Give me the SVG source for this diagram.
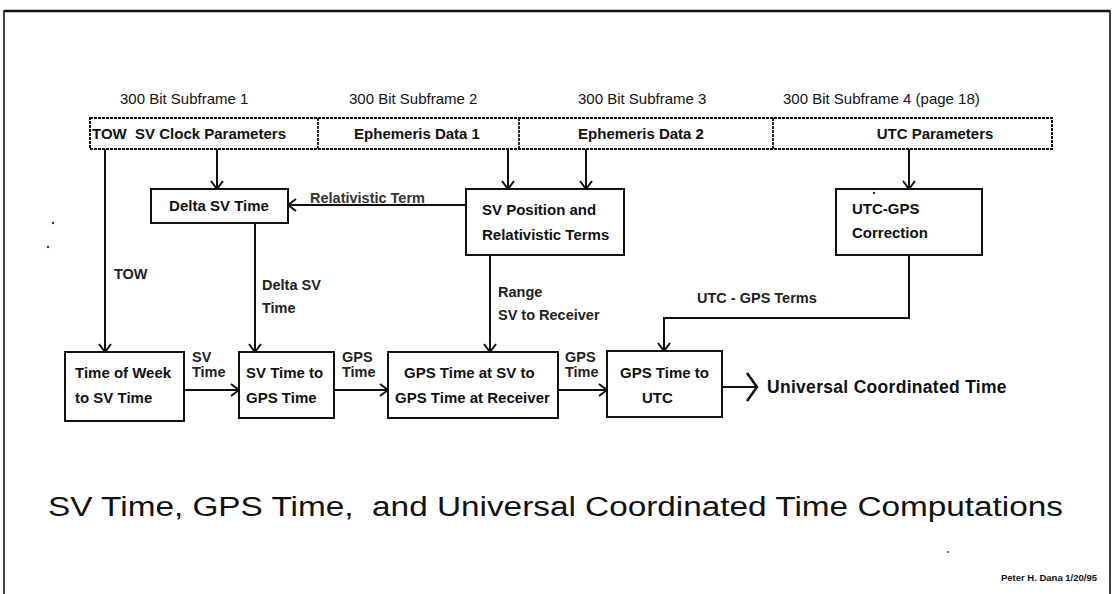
<svg xmlns="http://www.w3.org/2000/svg" width="1117" height="594" viewBox="0 0 1117 594">
<defs>
<marker id="arr" viewBox="0 0 10 14" refX="9" refY="7" markerWidth="10" markerHeight="14" markerUnits="userSpaceOnUse" orient="auto">
<path d="M1,1 L9,7 L1,13" fill="none" stroke="#111" stroke-width="2"/>
</marker>
<marker id="bigarr" viewBox="0 0 14 30" refX="12" refY="15" markerWidth="14" markerHeight="30" markerUnits="userSpaceOnUse" orient="auto">
<path d="M2,1 L12,15 L2,29" fill="none" stroke="#111" stroke-width="2.5"/>
</marker>
</defs>
<style>
.box{fill:#fff;stroke:#111;stroke-width:2}
.bar{fill:#fff;stroke:#111;stroke-width:2;stroke-dasharray:3 1}
.div{stroke:#111;stroke-width:1.8;stroke-dasharray:3 1}
.line{fill:none;stroke:#111;stroke-width:2}
.t{font-family:"Liberation Sans",Arial,sans-serif;font-size:15px;font-weight:bold;fill:#111}
.s{font-family:"Liberation Sans",Arial,sans-serif;font-size:15px;fill:#111}
.lbl{font-family:"Liberation Sans",Arial,sans-serif;font-size:14.5px;font-weight:bold;fill:#222}
</style>
<rect x="0" y="0" width="1117" height="594" fill="#fff"/>
<rect x="4" y="11" width="1106" height="600" fill="none" stroke="#111" stroke-width="1.6"/>
<line x1="4" y1="11" x2="1110" y2="11" stroke="#111" stroke-width="2.5"/>

<g id="subframes">
<text class="s" x="120" y="104">300 Bit Subframe 1</text>
<text class="s" x="349" y="104">300 Bit Subframe 2</text>
<text class="s" x="578" y="104">300 Bit Subframe 3</text>
<text class="s" x="783" y="104">300 Bit Subframe 4 (page 18)</text>
</g>

<g id="bar">
<rect class="bar" x="90" y="118" width="962" height="31"/>
<line class="div" x1="318" y1="118" x2="318" y2="149"/>
<line class="div" x1="519" y1="118" x2="519" y2="149"/>
<line class="div" x1="773" y1="118" x2="773" y2="149"/>
<text class="t" x="92" y="139" xml:space="preserve">TOW  SV Clock Parameters</text>
<text class="t" x="417" y="139" text-anchor="middle">Ephemeris Data 1</text>
<text class="t" x="641" y="139" text-anchor="middle">Ephemeris Data 2</text>
<text class="t" x="935" y="139" text-anchor="middle">UTC Parameters</text>
</g>

<g id="connectors">
<line class="line" x1="105" y1="149" x2="105" y2="352" marker-end="url(#arr)"/>
<line class="line" x1="217" y1="149" x2="217" y2="189" marker-end="url(#arr)"/>
<line class="line" x1="508" y1="149" x2="508" y2="189" marker-end="url(#arr)"/>
<line class="line" x1="586" y1="149" x2="586" y2="189" marker-end="url(#arr)"/>
<line class="line" x1="909" y1="149" x2="909" y2="189" marker-end="url(#arr)"/>
<line class="line" x1="466" y1="205" x2="288" y2="205" marker-end="url(#arr)"/>
<line class="line" x1="255" y1="223" x2="255" y2="352" marker-end="url(#arr)"/>
<line class="line" x1="490" y1="255" x2="490" y2="352" marker-end="url(#arr)"/>
<path class="line" d="M909,255 L909,318 L664,318 L664,351" marker-end="url(#arr)"/>
<line class="line" x1="184" y1="390" x2="239" y2="390" marker-end="url(#arr)"/>
<line class="line" x1="334" y1="390" x2="388" y2="390" marker-end="url(#arr)"/>
<line class="line" x1="558" y1="390" x2="607" y2="390" marker-end="url(#arr)"/>
<line class="line" x1="722" y1="387" x2="757" y2="387" marker-end="url(#bigarr)"/>
<text class="s" x="310" y="203" style="font-weight:bold;font-size:14.5px;fill:#333">Relativistic Term</text>
<text class="lbl" x="114" y="279">TOW</text>
<text class="lbl" x="262" y="290">Delta SV</text>
<text class="lbl" x="262" y="313">Time</text>
<text class="lbl" x="498" y="297">Range</text>
<text class="lbl" x="498" y="320">SV to Receiver</text>
<text class="lbl" x="697" y="303">UTC - GPS Terms</text>
<text class="lbl" x="192" y="362">SV</text>
<text class="lbl" x="192" y="377">Time</text>
<text class="lbl" x="342" y="362">GPS</text>
<text class="lbl" x="342" y="377">Time</text>
<text class="lbl" x="565" y="362">GPS</text>
<text class="lbl" x="565" y="377">Time</text>
</g>

<g id="delta-sv-time">
<rect class="box" x="151" y="189" width="137" height="34"/>
<text class="t" x="219" y="211" text-anchor="middle">Delta SV Time</text>
</g>
<g id="sv-position">
<rect class="box" x="466" y="189" width="158" height="66"/>
<text class="t" x="482" y="215">SV Position and</text>
<text class="t" x="482" y="240">Relativistic Terms</text>
</g>
<g id="utc-gps-correction">
<rect class="box" x="836" y="189" width="146" height="66"/>
<text class="t" x="852" y="214">UTC-GPS</text>
<text class="t" x="852" y="238">Correction</text>
</g>
<g id="time-of-week">
<rect class="box" x="65" y="352" width="119" height="69"/>
<text class="t" x="75" y="378">Time of Week</text>
<text class="t" x="75" y="403">to SV Time</text>
</g>
<g id="sv-to-gps">
<rect class="box" x="239" y="352" width="95" height="66"/>
<text class="t" x="246" y="378">SV Time to</text>
<text class="t" x="246" y="403">GPS Time</text>
</g>
<g id="gps-sv-to-receiver">
<rect class="box" x="388" y="352" width="170" height="66"/>
<text class="t" x="404" y="378">GPS Time at SV to</text>
<text class="t" x="395" y="403">GPS Time at Receiver</text>
</g>
<g id="gps-to-utc">
<rect class="box" x="607" y="351" width="115" height="66"/>
<text class="t" x="620" y="378">GPS Time to</text>
<text class="t" x="642" y="403">UTC</text>
</g>
<g id="utc-output">
<text class="t" x="767" y="393" style="font-size:17.5px;letter-spacing:0.3px">Universal Coordinated Time</text>
</g>

<g id="title">
<text x="48" y="516" textLength="1015" lengthAdjust="spacingAndGlyphs" style="font-family:'Liberation Sans',Arial,sans-serif;font-size:27px;fill:#111" xml:space="preserve">SV Time, GPS Time,  and Universal Coordinated Time Computations</text>
<text x="1097" y="581" text-anchor="end" style="font-family:'Liberation Sans',Arial,sans-serif;font-size:9.5px;font-weight:bold;fill:#111">Peter H. Dana 1/20/95</text>
</g>
<g id="specks" fill="#333">
<circle cx="53" cy="223" r="1.2"/>
<circle cx="48" cy="247" r="1.2"/>
<circle cx="874" cy="193" r="1.2"/>
<circle cx="948" cy="552" r="0.9"/>
</g>
</svg>
